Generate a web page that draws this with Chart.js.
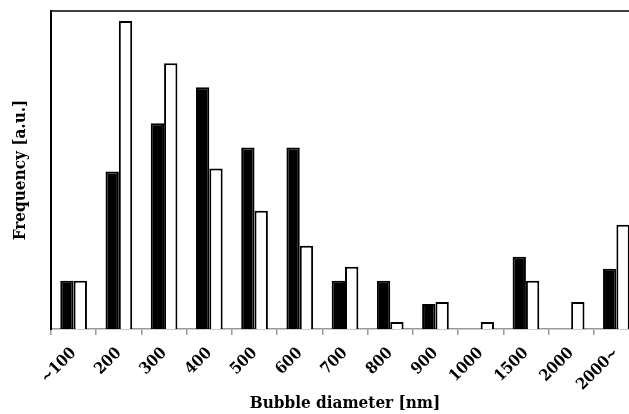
<!DOCTYPE html>
<html>
<head>
<meta charset="utf-8">
<script src="https://cdn.jsdelivr.net/npm/chart.js@4"></script>
<style>
  html, body { margin: 0; padding: 0; background: #fff; overflow: hidden; }
  #wrap { width: 641px; height: 414px; position: relative; }
</style>
</head>
<body>
<div id="wrap"><canvas id="c"></canvas></div>
<script>
const categories = ["~100", "200", "300", "400", "500", "600", "700", "800", "900", "1000", "1500", "2000", "2000~"];
const seriesBlack = [48, 157, 205, 241, 181, 181, 48, 48, 25, 0, 72, 0, 60];
const seriesWhite = [48, 307, 265, 160, 118, 83, 62, 7, 27, 7, 48, 27, 104];
const yMax = 317;

const fontFam = "'DejaVu Serif Condensed', 'DejaVu Serif', 'Liberation Serif', serif";

const frameTop = {
  id: 'frameTop',
  afterDraw(chart) {
    const {ctx, chartArea} = chart;
    ctx.save();
    ctx.strokeStyle = '#000';
    ctx.lineWidth = 1.5;
    ctx.beginPath();
    ctx.moveTo(chartArea.left, chartArea.top);
    ctx.lineTo(chartArea.right + 2, chartArea.top);
    ctx.stroke();
    ctx.restore();
  }
};

new Chart(document.getElementById('c'), {
  type: 'bar',
  data: {
    labels: categories,
    datasets: [
      { label: 'A', data: seriesBlack, backgroundColor: '#000', borderColor: '#000', borderWidth: 2,
        categoryPercentage: 0.59, barPercentage: 1.0 },
      { label: 'B', data: seriesWhite, backgroundColor: '#fff', borderColor: '#000', borderWidth: 2,
        categoryPercentage: 0.59, barPercentage: 1.0 }
    ]
  },
  options: {
    responsive: true,
    maintainAspectRatio: false,
    animation: false,
    devicePixelRatio: 1,
    layout: { padding: { top: 11, right: 2, left: 0, bottom: 0 } },
    plugins: { legend: { display: false }, tooltip: { enabled: false } },
    scales: {
      x: {
        offset: true,
        grid: { display: true, drawOnChartArea: false, drawTicks: true, tickLength: 6, color: '#999', lineWidth: 1.5, offset: true },
        border: { display: true, color: '#999', width: 1.5 },
        ticks: { color: '#000', font: { family: fontFam, size: 16, weight: 'bold' }, minRotation: 45, maxRotation: 45, padding: 9, autoSkip: false },
        title: { display: true, text: 'Bubble diameter [nm]', color: '#000', font: { family: fontFam, size: 17, weight: 'bold' }, padding: { top: 0, bottom: 0 } },
        afterFit(scale) { scale.height = 85; }
      },
      y: {
        min: 0, max: yMax,
        grid: { display: false },
        border: { display: true, color: '#000', width: 2 },
        ticks: { display: false },
        title: { display: true, text: 'Frequency [a.u.]', color: '#000', font: { family: fontFam, size: 17, weight: 'bold' }, padding: { top: 10, bottom: 0 } },
        afterFit(scale) { scale.width = 51; }
      }
    }
  },
  plugins: [frameTop]
});
</script>
</body>
</html>
